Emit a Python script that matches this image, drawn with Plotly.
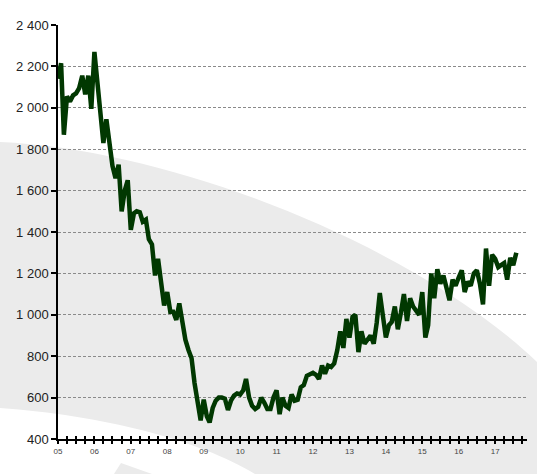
import plotly.graph_objects as go
import pandas as pd

# ---- data (monthly values) ----
v2005 = [2140, 2215, 1870, 2055, 2030, 2060, 2070, 2095, 2155, 2065, 2155, 1995]
v2006 = [2270, 2110, 1945, 1830, 1945, 1815, 1720, 1660, 1725, 1500, 1600, 1650]
v2007 = [1410, 1490, 1500, 1495, 1450, 1460, 1365, 1340, 1190, 1270, 1150, 1045]
v2008 = [1110, 1015, 1015, 975, 1055, 950, 880, 830, 790, 670, 575, 490]
v2009 = [590, 510, 480, 550, 585, 600, 600, 595, 540, 585, 610, 620]
v2010 = [615, 635, 690, 600, 560, 545, 555, 600, 575, 545, 545, 600]
v2011 = [635, 520, 600, 560, 550, 615, 585, 590, 650, 660, 705, 715]
v2012 = [720, 710, 690, 755, 715, 755, 748, 765, 830, 920, 840, 980]
v2013 = [890, 990, 1000, 820, 920, 860, 880, 900, 860, 960, 1105, 1000]
v2014 = [890, 950, 965, 1040, 930, 1010, 1100, 970, 1080, 1040, 1020, 1000]
v2015 = [1110, 890, 950, 1200, 1080, 1220, 1150, 1190, 1130, 1070, 1170, 1140]
v2016 = [1180, 1215, 1110, 1160, 1140, 1200, 1215, 1150, 1050, 1320, 1140, 1290]
v2017 = [1270, 1230, 1240, 1250, 1170, 1275, 1240, 1300]

year_labels = ["05", "06", "07", "08", "09", "10", "11", "12", "13", "14", "15", "16", "17"]
y_tick_values = [400, 600, 800, 1000, 1200, 1400, 1600, 1800, 2000, 2200, 2400]
y_tick_text = ["400", "600", "800", "1 000", "1 200", "1 400", "1 600", "1 800", "2 000", "2 200", "2 400"]

values = (v2005 + v2006 + v2007 + v2008 + v2009 + v2010 + v2011 + v2012
          + v2013 + v2014 + v2015 + v2016 + v2017)
dates = pd.date_range("2005-01-01", periods=len(values), freq="MS")

quarters = pd.date_range("2005-01-01", "2017-10-01", freq="QS")
q_text = [year_labels[d.year - 2005] if d.month == 1 else "" for d in quarters]

# ---- layout geometry ----
W, H = 537, 474
ML, MR, MT, MB = 58, 10, 25, 35
PW, PH = W - ML - MR, H - MT - MB


def P(px, py):
    return f"{(px - ML) / PW:.4f},{(H - MB - py) / PH:.4f}"


gray = "#ebebeb"
band = (f"M{P(0,142)} C{P(180,150)} {P(420,250)} {P(537,362)} "
        f"L{P(537,474)} L{P(255,474)} C{P(200,440)} {P(100,415)} {P(0,408)} Z")
wedge = f"M{P(114,474)} L{P(121,463)} L{P(152,474)} Z"

fig = go.Figure()
fig.add_trace(go.Scatter(x=dates, y=values, mode="lines",
                         line=dict(color="#013801", width=4.5),
                         showlegend=False, hoverinfo="skip"))
fig.add_trace(go.Scatter(x=[dates[0]], y=[None], xaxis="x2", mode="lines",
                         showlegend=False, hoverinfo="skip"))

xr = ["2005-01-01", "2017-11-16"]
fig.update_layout(
    width=W, height=H,
    margin=dict(l=ML, r=MR, t=MT, b=MB),
    paper_bgcolor="white", plot_bgcolor="rgba(0,0,0,0)",
    font=dict(family="Liberation Sans, Arial, sans-serif", color="#222"),
    shapes=[
        dict(type="path", path=band, xref="paper", yref="paper",
             fillcolor=gray, line=dict(width=0), layer="below"),
        dict(type="path", path=wedge, xref="paper", yref="paper",
             fillcolor=gray, line=dict(width=0), layer="below"),
    ],
    xaxis=dict(range=xr, tickmode="array", tickvals=quarters, ticktext=q_text,
               ticks="outside", ticklen=3, tickwidth=1.5, tickcolor="black",
               showline=True, linecolor="black", linewidth=2,
               showgrid=False, zeroline=False,
               tickfont=dict(size=8, color="#444")),
    xaxis2=dict(range=xr, overlaying="x", anchor="y", side="bottom",
                tickmode="array", tickvals=quarters, ticks="inside", ticklen=3,
                tickwidth=1.5, tickcolor="black", showticklabels=False,
                showline=False, showgrid=False, zeroline=False),
    yaxis=dict(range=[400, 2400], tickmode="array", tickvals=y_tick_values,
               ticktext=y_tick_text, ticks="outside", ticklen=5, tickwidth=1.5,
               tickcolor="black", showline=True, linecolor="black", linewidth=1.5,
               showgrid=True, gridcolor="#8a8a8a", gridwidth=1, griddash="3px,2px",
               zeroline=False, tickfont=dict(size=13, color="#222")),
)

fig.write_html("out.html", config={"displayModeBar": False},
               post_script="document.body.style.margin='0';document.body.style.overflow='hidden';")
